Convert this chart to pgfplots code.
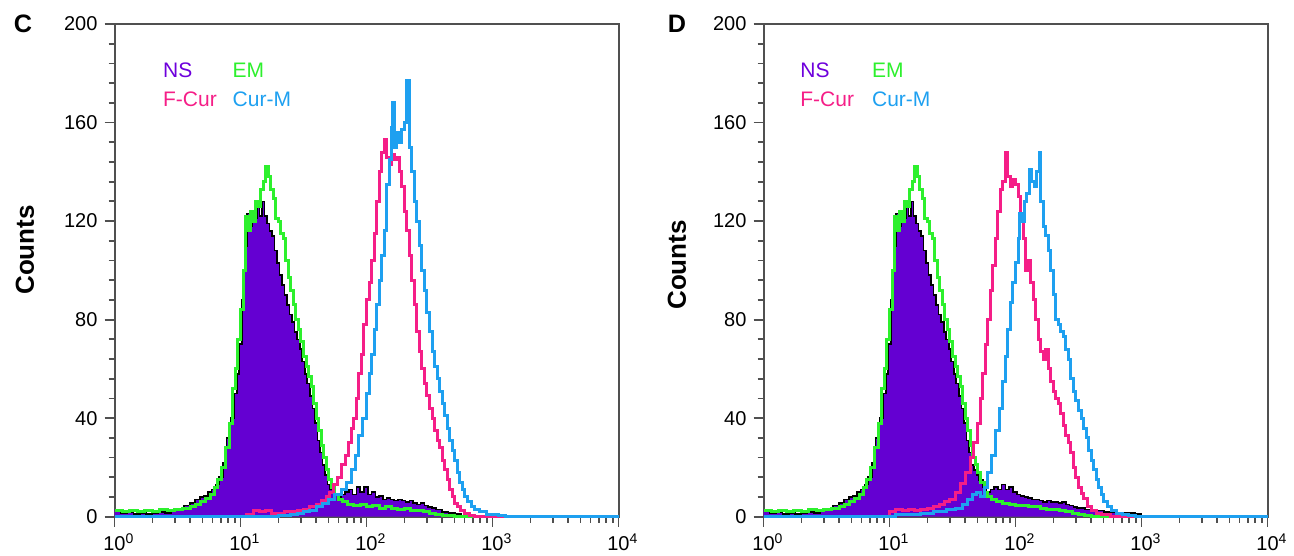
\documentclass[border=0pt]{standalone}
\usepackage{pgfplots}
\usepackage{pgfplotstable}
\pgfplotsset{compat=1.18}
\usepackage{fontspec}
\setmainfont{Liberation Sans}
\definecolor{nsfill}{RGB}{100,0,210}
\definecolor{nstext}{RGB}{110,0,220}
\definecolor{emgreen}{RGB}{45,240,45}
\definecolor{fcpink}{RGB}{245,30,135}
\definecolor{cmblue}{RGB}{30,160,240}
\definecolor{axisgray}{RGB}{80,80,80}

% ---------- Panel C ----------
\pgfplotstableread{
x y
1 2.5
1.148 2
1.318 2.5
1.514 2
1.738 2.5
1.995 2
2.291 3
2.630 2.5
3.020 3
3.467 3.5
3.981 4
4.365 5
4.786 6
5.248 7.5
5.754 9
6.166 12
6.607 15
7.079 20
7.586 28
8.128 38
8.710 52
9.120 60
9.550 72
10 84
10.47 100
10.96 122
11.48 116
12.02 124
12.59 120
13.18 128
13.80 126
14.45 133
15.14 136
15.85 142
16.60 138
17.38 133
18.20 129
19.05 121
19.95 120
20.89 115
21.88 113
22.91 104
23.99 97
25.12 92
26.30 86
27.54 80
28.84 76
30.20 71
31.62 65
33.11 61
34.67 57
36.31 53
38.02 46
39.81 40
41.69 35
43.65 29
45.71 24
47.86 19
50.12 15
52.48 12
56.23 9
60.26 7
64.57 6
70.79 5
79.43 4.5
89.13 5
100 4
112.2 4.5
125.9 3.5
141.3 4
158.5 3.5
177.8 3
199.5 3.5
223.9 2.5
251.2 2.5
281.8 2
316.2 1.5
354.8 1
398.1 0.5
501.2 0
10000 0
}\emC

\pgfplotstableread{
x y
1 3
1.122 1.5
1.259 2
1.413 1
1.585 1.5
1.778 1
1.995 1.5
2.239 2
2.512 1.5
2.818 2.5
3.162 3
3.548 4.5
3.981 5.5
4.365 7
4.786 8
5.129 8.5
5.495 10
5.888 11
6.310 13
6.761 16
7.244 22
7.762 32
8.318 40
8.913 50
9.333 58
9.772 70
10.23 88
10.72 110
11.22 123
11.75 118
12.30 124
12.88 121
13.49 126
14.13 122
14.79 128
15.49 122
16.22 119
16.98 116
17.78 114
18.62 108
19.50 103
20.42 98
21.38 94
22.39 90
23.44 86
24.55 82
25.70 79
26.92 75
28.18 72
29.51 68
30.90 63
32.36 58
33.88 54
35.48 49
37.15 44
38.90 38
40.74 31
42.66 26
44.67 21
46.77 17
48.98 13
51.29 11
54.95 9
58.88 8
63.10 9
67.61 10
72.44 11
77.62 9
83.18 12
89.13 10
95.50 12
102.3 9
109.6 10
117.5 8
125.9 8.5
134.9 7
144.5 7.5
154.9 7
166.0 6.5
177.8 7
190.5 6.5
204.2 6
218.8 6.5
234.4 5.5
251.2 5
269.2 5.5
288.4 4.5
309.0 4
331.1 3.5
354.8 3
398.1 2
446.7 1.5
501.2 1
562.3 0.5
631.0 0
10000 0
}\nsC

\pgfplotstableread{
x y
1 0
10 0
11.22 1
12.59 2.5
14.13 2
15.85 2.5
17.78 1.5
19.95 1.5
22.39 2
25.12 2
28.18 2.5
31.62 3
35.48 4
39.81 5
43.65 6.5
47.86 8
51.29 10
54.95 13
58.88 16
63.10 21
67.61 25
72.44 30
75.86 36
79.43 40
83.18 48
87.10 58
91.20 66
95.50 78
100 88
104.7 95
109.6 104
114.8 115
120.2 128
125.9 140
131.8 148
138.0 153
144.5 146
151.4 143
158.5 147
166.0 145
173.8 146
182.0 140
190.5 134
199.5 124
208.9 116
218.8 106
229.1 96
239.9 86
251.2 75
263.0 67
275.4 60
288.4 54
302.0 49
316.2 44
331.1 40
346.7 35
363.1 31
380.2 28
398.1 23
416.9 19
436.5 15
457.1 11
478.6 8
501.2 5.5
524.8 4
562.3 2.5
602.6 1.5
660.7 0.5
724.4 0
10000 0
}\fcC

\pgfplotstableread{
x y
1 0
15.85 0
19.95 0.5
25.12 1
28.18 1.5
31.62 2
35.48 2.5
39.81 4
44.67 5.5
50.12 7
56.23 9
63.10 11
69.18 14
75.86 19
81.28 25
87.10 33
93.33 40
100 50
104.7 58
109.6 66
114.8 76
120.2 86
125.9 96
131.8 106
138.0 116
144.5 135
151.4 145
158.5 158
162.2 168
166.0 150
173.8 156
182.0 152
190.5 157
199.5 160
208.9 177
218.8 150
229.1 140
239.9 128
251.2 120
263.0 110
275.4 100
288.4 92
302.0 83
316.2 75
331.1 67
346.7 61
363.1 56
380.2 51
398.1 46
416.9 41
436.5 36
457.1 31
478.6 27
501.2 23
524.8 18
549.5 14
575.4 11
602.6 8
631.0 6
676.1 4
724.4 3
794.3 2
891.3 1
1000 1
1122 0.5
1259 0
10000 0
}\cmC

% ---------- Panel D ----------
\pgfplotstableread{
x y
1 2.5
1.148 2
1.318 2.5
1.514 2
1.738 2.5
1.995 2
2.291 3
2.630 2.5
3.020 3
3.467 3.5
3.981 4
4.365 5
4.786 6
5.248 7.5
5.754 9
6.166 12
6.607 15
7.079 20
7.586 28
8.128 38
8.710 52
9.120 60
9.550 72
10 84
10.47 100
10.96 122
11.48 116
12.02 124
12.59 120
13.18 128
13.80 126
14.45 133
15.14 136
15.85 142
16.60 138
17.38 133
18.20 129
19.05 121
19.95 120
20.89 115
21.88 113
22.91 104
23.99 97
25.12 92
26.30 86
27.54 80
28.84 76
30.20 71
31.62 65
33.11 61
34.67 57
36.31 53
38.02 46
39.81 40
41.69 35
43.65 29
45.71 24
47.86 21
50.12 18
52.48 14
56.23 10
60.26 8
64.57 7
70.79 6
79.43 5.5
89.13 5
100 4.5
112.2 4.5
125.9 4
141.3 4
158.5 3.5
177.8 3
199.5 3
223.9 2.5
251.2 2
281.8 1.5
316.2 1
354.8 0.5
398.1 0
10000 0
}\emD

\pgfplotstableread{
x y
1 3
1.122 1.5
1.259 2
1.413 1
1.585 1.5
1.778 1
1.995 1.5
2.239 2
2.512 1.5
2.818 2.5
3.162 3
3.548 4.5
3.981 5.5
4.365 7
4.786 8
5.129 8.5
5.495 10
5.888 11
6.310 13
6.761 16
7.244 22
7.762 32
8.318 40
8.913 50
9.333 58
9.772 70
10.23 88
10.72 110
11.22 123
11.75 118
12.30 124
12.88 121
13.49 126
14.13 122
14.79 128
15.49 122
16.22 119
16.98 116
17.78 114
18.62 108
19.50 103
20.42 98
21.38 94
22.39 90
23.44 86
24.55 82
25.70 79
26.92 75
28.18 72
29.51 68
30.90 63
32.36 58
33.88 54
35.48 49
37.15 44
38.90 38
40.74 31
42.66 26
44.67 21
46.77 19
48.98 17
51.29 15
54.95 12
58.88 10
63.10 11
67.61 12
72.44 11
77.62 13
83.18 11
89.13 12
95.50 10
102.3 9
109.6 8.5
117.5 8
125.9 7.5
134.9 7
144.5 7
154.9 6.5
166.0 6
177.8 6.5
190.5 6
204.2 6
218.8 5.5
234.4 6
251.2 5
269.2 4.5
288.4 4
309.0 3.5
354.8 3
398.1 2.5
501.2 2
631.0 1.5
794.3 1.5
891.3 1
1000 0.5
1122 0
10000 0
}\nsD

\pgfplotstableread{
x y
1 0
7.943 0
10 2
11.22 3
12.59 2.5
14.13 3
15.85 2.5
17.78 3
19.95 3.5
22.39 4
25.12 5
27.54 6
30.20 7
33.11 10
36.31 13.5
39.81 18
43.65 24
46.77 30
50.12 38
52.48 48
54.95 58
57.54 70
60.26 80
63.10 92
66.07 102
69.18 113
72.44 124
75.86 133
79.43 136
83.18 148
87.10 138
91.20 134
95.50 137
100 135
104.7 130
109.6 123
114.8 113
120.2 100
125.9 104
131.8 95
138.0 88
144.5 80
151.4 72
158.5 67
166.0 64
173.8 68
182.0 60
190.5 55
199.5 51
208.9 48
218.8 46
229.1 42
239.9 37
251.2 33
263.0 30
275.4 26
288.4 20
302.0 16
316.2 12
331.1 9.5
346.7 7.5
371.5 4
398.1 2.5
436.5 1.5
478.6 1
562.3 0
10000 0
}\fcD

\pgfplotstableread{
x y
1 0
8.913 0
11.22 1
14.13 1
17.78 1.5
22.39 2
28.18 3
33.11 3.5
38.02 5
41.69 7
45.71 9
48.98 10
52.48 8
56.23 12
60.26 18
64.57 25
69.18 35
74.13 44
79.43 55
83.18 65
87.10 76
91.20 87
95.50 95
100 103
104.7 113
107.2 123
112.2 120
117.5 128
123.0 131
128.8 141
134.9 136
141.3 134
147.9 140
154.9 148
158.5 128
166.0 118
173.8 114
182.0 108
190.5 100
199.5 90
208.9 80
218.8 78
229.1 75
239.9 73
251.2 68
263.0 64
275.4 56
288.4 51
302.0 47
316.2 43
331.1 40
346.7 36
363.1 32
380.2 27
398.1 23
416.9 19
436.5 15
457.1 12
478.6 9
501.2 6
537.0 4
575.4 2.5
631.0 1.5
707.9 1
794.3 0.5
891.3 0
10000 0
}\cmD

\begin{document}
\begin{tikzpicture}
\path[use as bounding box] (0,0) rectangle (647pt,278pt);

% Panel C
\begin{axis}[
    xmode=log, xmin=1, xmax=10000, ymin=0, ymax=200,
    at={(57.25pt,19.65pt)}, anchor=south west, scale only axis,
    width=252pt, height=246.35pt, clip=false,
    xtick={1,10,100,1000,10000},
    xticklabels={10\rlap{\textsuperscript{0}},10\rlap{\textsuperscript{1}},10\rlap{\textsuperscript{2}},10\rlap{\textsuperscript{3}},10\rlap{\textsuperscript{4}}},
    minor xtick={2,3,4,5,6,7,8,9,20,30,40,50,60,70,80,90,200,300,400,500,600,700,800,900,2000,3000,4000,5000,6000,7000,8000,9000},
    ytick={0,40,80,120,160,200},
    yticklabels={0,40,80,120,160,200},
    minor y tick num=4,
    tick align=outside, tick pos=left,
    major tick length=5pt, minor tick length=3pt,
    every tick/.style={axisgray, line width=0.9pt},
    axis line style={axisgray, line width=1pt},
    tick label style={font=\fontsize{10}{11}\selectfont, text=black},
  ]
\addplot[const plot, fill=nsfill, draw=none] table {\nsC} \closedcycle;
\addplot[const plot, black, line width=0.8pt] table {\nsC};
\addplot[const plot, line width=1.5pt, emgreen] table {\emC};
\addplot[const plot, line width=1.5pt, fcpink] table {\fcC};
\addplot[const plot, line width=1.5pt, cmblue] table {\cmC};
\end{axis}

% Panel D
\begin{axis}[
    xmode=log, xmin=1, xmax=10000, ymin=0, ymax=200,
    at={(381.75pt,19.65pt)}, anchor=south west, scale only axis,
    width=252pt, height=246.35pt, clip=false,
    xtick={1,10,100,1000,10000},
    xticklabels={10\rlap{\textsuperscript{0}},10\rlap{\textsuperscript{1}},10\rlap{\textsuperscript{2}},10\rlap{\textsuperscript{3}},10\rlap{\textsuperscript{4}}},
    minor xtick={2,3,4,5,6,7,8,9,20,30,40,50,60,70,80,90,200,300,400,500,600,700,800,900,2000,3000,4000,5000,6000,7000,8000,9000},
    ytick={0,40,80,120,160,200},
    yticklabels={0,40,80,120,160,200},
    minor y tick num=4,
    tick align=outside, tick pos=left,
    major tick length=5pt, minor tick length=3pt,
    every tick/.style={axisgray, line width=0.9pt},
    axis line style={axisgray, line width=1pt},
    tick label style={font=\fontsize{10}{11}\selectfont, text=black},
  ]
\addplot[const plot, fill=nsfill, draw=none] table {\nsD} \closedcycle;
\addplot[const plot, black, line width=0.8pt] table {\nsD};
\addplot[const plot, line width=1.5pt, emgreen] table {\emD};
\addplot[const plot, line width=1.5pt, fcpink] table {\fcD};
\addplot[const plot, line width=1.5pt, cmblue] table {\cmD};
\end{axis}

% panel letters
\node[font=\fontsize{12.6}{14}\selectfont\bfseries] at (11.5pt,266pt) {C};
\node[font=\fontsize{12.6}{14}\selectfont\bfseries] at (338.5pt,266pt) {D};
% y labels
\node[rotate=90, font=\fontsize{13}{15}\selectfont\bfseries] at (12.5pt,153pt) {Counts};
\node[rotate=90, font=\fontsize{13}{15}\selectfont\bfseries] at (338.5pt,145.5pt) {Counts};
% legends
\node[anchor=west, inner sep=0pt, font=\fontsize{10.5}{12}\selectfont, text=nstext] at (81.35pt,242.65pt) {NS};
\node[anchor=west, inner sep=0pt, font=\fontsize{10.5}{12}\selectfont, text=emgreen] at (116.15pt,242.65pt) {EM};
\node[anchor=west, inner sep=0pt, font=\fontsize{10.5}{12}\selectfont, text=fcpink] at (81.35pt,228.35pt) {F-Cur};
\node[anchor=west, inner sep=0pt, font=\fontsize{10.5}{12}\selectfont, text=cmblue] at (116.15pt,228.35pt) {Cur-M};
\node[anchor=west, inner sep=0pt, font=\fontsize{10.5}{12}\selectfont, text=nstext] at (400pt,242.65pt) {NS};
\node[anchor=west, inner sep=0pt, font=\fontsize{10.5}{12}\selectfont, text=emgreen] at (435.85pt,242.65pt) {EM};
\node[anchor=west, inner sep=0pt, font=\fontsize{10.5}{12}\selectfont, text=fcpink] at (400pt,228.35pt) {F-Cur};
\node[anchor=west, inner sep=0pt, font=\fontsize{10.5}{12}\selectfont, text=cmblue] at (435.85pt,228.35pt) {Cur-M};
\end{tikzpicture}
\end{document}
